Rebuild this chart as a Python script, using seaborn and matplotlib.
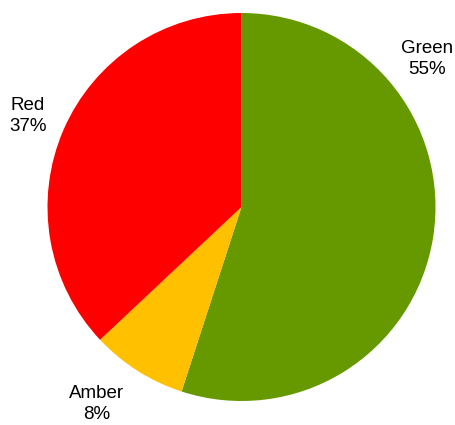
import matplotlib
matplotlib.use("Agg")
import matplotlib.pyplot as plt
import seaborn as sns

sns.set_theme(style="white")
plt.rcParams['font.family'] = ['Liberation Sans', 'DejaVu Sans']

categories = ["Green", "Amber", "Red"]
values = [55, 8, 37]
colors = ["#669900", "#FFC000", "#FF0000"]

W, H = 455, 425
cx, cy, R = 241.5, 207.0, 194.0

fig = plt.figure(figsize=(W / 100, H / 100), dpi=100)
ax = fig.add_axes([0, 0, 1, 1])
labels = [f"{c}\n{v}%" for c, v in zip(categories, values)]
wedges, texts = ax.pie(values, labels=labels, colors=colors, startangle=90,
                       counterclock=False, radius=1.0, labeldistance=1.2,
                       textprops=dict(fontsize=13.5, color="#000000", ha="center", va="center"),
                       wedgeprops=dict(linewidth=0))
for t in texts:
    t.set_horizontalalignment("center")
    t.set_linespacing(1.32)
texts[0].set_position(((427 - cx) / R, (cy - 59) / R))
texts[1].set_position(((97 - cx) / R, (cy - 404) / R))
texts[2].set_position(((28 - cx) / R, (cy - 116) / R))

ax.set_xlim((0 - cx) / R, (W - cx) / R)
ax.set_ylim((cy - H) / R, cy / R)
ax.set_aspect("auto")
ax.axis("off")
fig.savefig("out.png", dpi=100, facecolor="white")
